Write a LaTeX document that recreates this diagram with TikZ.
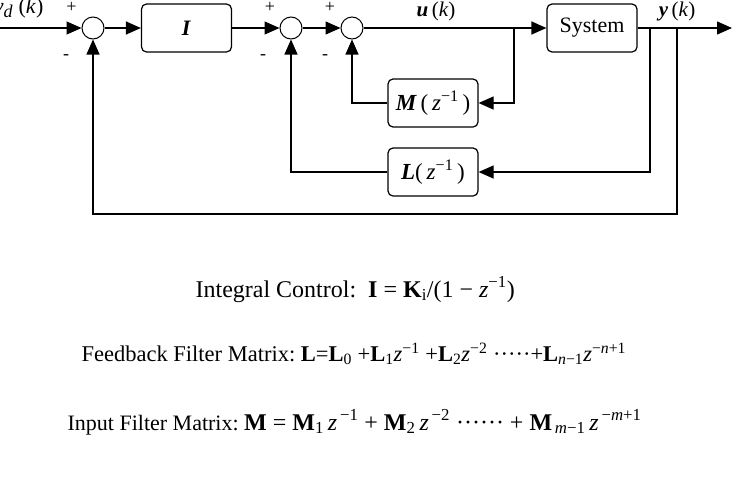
\documentclass[tikz,border=0pt]{standalone}
\usepackage{fontspec}
\setmainfont{Liberation Serif}
\usetikzlibrary{arrows.meta, positioning, calc}

\newcommand{\zv}{\textit{z}}
\newcommand{\mbf}[1]{\textbf{#1}}
\newcommand{\bfit}[1]{\textbf{\textit{#1}}}

\begin{document}
\begin{tikzpicture}[
    x=1pt, y=-1pt,
    line width=1.2pt,
    sumnode/.style={circle, draw, line width=1pt, minimum size=22pt, inner sep=0pt},
    block/.style={rectangle, draw, rounded corners=5pt, minimum width=90pt, minimum height=48pt, font=\fontsize{22}{26}\selectfont},
    sign/.style={inner sep=0pt, font=\fontsize{18}{20}\selectfont},
    lbl/.style={inner sep=0pt, anchor=base, font=\fontsize{21}{24}\selectfont},
    sig/.style={-{Triangle[length=15pt,width=13pt]}},
    eqn/.style={inner sep=0pt, anchor=base west}
]

\useasboundingbox (0,0) rectangle (732,488);

% forward path
\coordinate (in) at (0,28);
\node[sumnode] (s1) at (93,28) {};
\node[block] (int) at (186.5,28) {\bfit{I}};
\node[sumnode] (s2) at (291,28) {};
\node[sumnode] (s3) at (352,28) {};
\node[block] (sys) at (592,28) {System};
\coordinate (ubr) at (514,28);
\coordinate (ybr1) at (650,28);
\coordinate (ybr2) at (677,28);
\coordinate (out) at (732,28);

% filters
\node[block, font=\fontsize{23}{26}\selectfont] (mfilt) at (433,103) {\bfit{M}\,(\,\zv\textsuperscript{−1}\,)};
\node[block, font=\fontsize{23}{26}\selectfont] (lfilt) at (433,172) {\bfit{L}(\,\zv\textsuperscript{−1}\,)};

% signal labels
\node[lbl, anchor=base east, font=\fontsize{22}{24}\selectfont] (yd) at (44,13) {\textit{y}\raisebox{-0.4ex}{\fontsize{18}{20}\selectfont\textit{d}}\hspace{6pt}(\textit{k})};
\node[lbl] (uk) at (436,16) {\bfit{u}\,(\textit{k})};
\node[lbl] (yk) at (677,16) {\bfit{y}\,(\textit{k})};

\node[sign] (p1) at (71.5,7.5) {+};
\node[sign] (p2) at (270,7.5) {+};
\node[sign] (p3) at (330,7.5) {+};
\node[sign] (m1) at (66,57) {-};
\node[sign] (m2) at (263,57) {-};
\node[sign] (m3) at (325,57) {-};

\draw[sig] (in) -- (s1);
\draw[sig] (s1) -- (int);
\draw[sig] (int) -- (s2);
\draw[sig] (s2) -- (s3);
\draw[sig] (s3) -- (sys);
\draw[sig] (sys) -- (out);
\draw[sig] (ubr) |- (mfilt);
\draw[sig] (mfilt) -| (s3);
\draw[sig] (ybr1) |- (lfilt);
\draw[sig] (lfilt) -| (s2);
\draw[sig] (ybr2) -- ++(0,186) -| (s1);

% Equations
\node[eqn, font=\fontsize{24}{28}\selectfont] (ctrl) at (195,297) {Integral Control:\ \ \mbf{I} = \mbf{K}\textsubscript{i}/(1 − \zv\textsuperscript{−1})};
\node[eqn, font=\fontsize{22.5}{26}\selectfont] (fbk) at (81,361) {Feedback Filter Matrix:\ \mbf{L}=\mbf{L}\textsubscript{0} +\mbf{L}\textsubscript{1}\zv\textsuperscript{−1} +\mbf{L}\textsubscript{2}\zv\textsuperscript{−2} ·····+\mbf{L}\textsubscript{\textit{n}−1}\zv\textsuperscript{−\textit{n}+1}};
\node[eqn, font=\fontsize{22}{26}\selectfont] (inp) at (67,430) {Input Filter Matrix:\ {\fontsize{24}{28}\selectfont\mbf{M} = \mbf{M}\textsubscript{1}\,\zv\textsuperscript{\,−1} + \mbf{M}\textsubscript{2}\,\zv\textsuperscript{\,−2} ······ + \mbf{M}\textsubscript{\,\textit{m}−1}\,\zv\textsuperscript{\,−\textit{m}+1}}};

\end{tikzpicture}
\end{document}
